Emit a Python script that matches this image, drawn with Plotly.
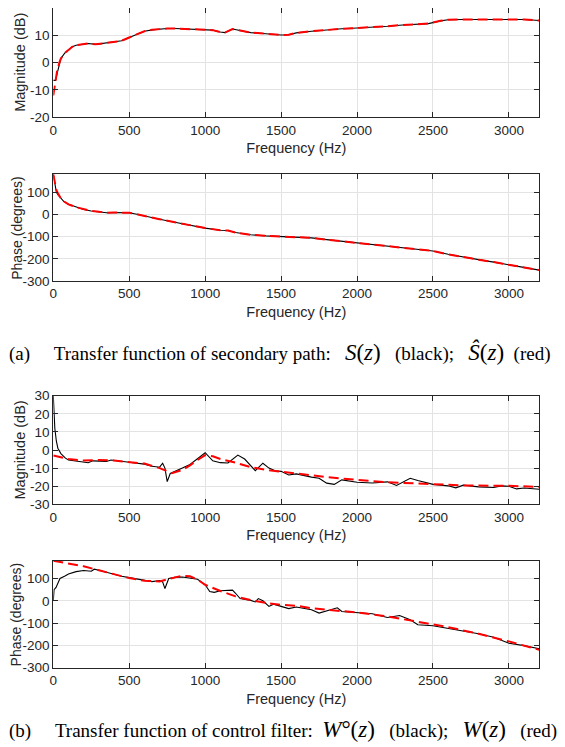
import plotly.graph_objects as go

# ---------------- data ----------------
# (a) secondary path magnitude
s_mag_f = [0, 15, 25, 40, 50, 75, 100, 125, 150, 200, 230, 280, 320, 350, 400, 450, 500, 550, 600, 650,
           700, 750, 800, 900, 1000, 1050, 1100, 1130, 1180, 1250, 1300, 1400, 1500, 1550, 1600, 1700,
           1800, 1900, 2000, 2100, 2200, 2300, 2400, 2470, 2550, 2600, 2700, 2800, 2900, 3000, 3100, 3200]
s_mag = [-6.5, -6.5, -4, 0, 1.5, 3.5, 4.8, 5.8, 6.4, 6.8, 7.0, 6.7, 7.0, 7.3, 7.5, 8.0, 9.2, 10.4, 11.5, 12.0,
         12.3, 12.5, 12.5, 12.3, 12.2, 11.9, 11.2, 11.0, 12.3, 11.6, 11.0, 10.6, 10.1, 10.2, 10.9, 11.5,
         12.0, 12.4, 12.7, 12.9, 13.3, 13.8, 14.0, 14.3, 15.3, 15.7, 15.8, 15.8, 15.9, 16.0, 15.8, 15.4]
shat_mag_f = [0, 10, 25, 40, 50, 75, 100, 125, 150, 200, 230, 280, 320, 350, 400, 450, 500, 550, 600, 650,
              700, 750, 800, 900, 1000, 1050, 1100, 1130, 1180, 1250, 1300, 1400, 1500, 1550, 1600, 1700,
              1800, 1900, 2000, 2100, 2200, 2300, 2400, 2470, 2550, 2600, 2700, 2800, 2900, 3000, 3100, 3200]
shat_mag = [-12, -8, -3, 0, 1.5, 3.5, 4.8, 5.8, 6.4, 6.8, 7.0, 6.7, 7.0, 7.3, 7.5, 8.0, 9.2, 10.4, 11.5, 12.0,
            12.3, 12.5, 12.5, 12.3, 12.2, 11.9, 11.2, 11.0, 12.3, 11.6, 11.0, 10.6, 10.1, 10.2, 10.9, 11.5,
            12.0, 12.4, 12.7, 12.9, 13.3, 13.8, 14.0, 14.3, 15.3, 15.7, 15.8, 15.8, 15.9, 16.0, 15.8, 15.4]

# (a) secondary path phase
s_ph_f = [0, 10, 20, 30, 50, 70, 100, 150, 200, 250, 300, 350, 400, 450, 500, 550, 600, 700, 800, 900,
          1000, 1100, 1150, 1200, 1300, 1400, 1500, 1600, 1700, 1800, 1900, 2000, 2100, 2200, 2300, 2400,
          2500, 2600, 2700, 2800, 2900, 3000, 3100, 3200]
s_ph = [180, 130, 100, 88, 70, 57, 45, 32, 22, 15, 12, 7, 8, 8, 7, 0, -8, -22, -36, -50,
        -62, -72, -73, -82, -92, -97, -100, -100, -106, -114, -121, -128, -135, -143, -151, -158,
        -165, -180, -193, -204, -215, -226, -238, -251]
shat_ph = [180, 140, 110, 95, 72, 58, 45, 32, 22, 15, 12, 7, 8, 8, 7, 0, -8, -22, -36, -50,
           -62, -72, -73, -82, -92, -97, -100, -100, -106, -114, -121, -128, -135, -143, -151, -158,
           -165, -180, -193, -204, -215, -226, -238, -251]

# (b) control filter magnitude
wo_mag_f = [0, 5, 10, 20, 30, 50, 80, 100, 150, 200, 230, 260, 300, 350, 380, 420, 500, 600, 650, 700,
            720, 735, 750, 770, 800, 850, 900, 950, 1000, 1050, 1100, 1150, 1180, 1215, 1260, 1300, 1330,
            1380, 1420, 1460, 1500, 1550, 1600, 1700, 1750, 1800, 1850, 1900, 2000, 2100, 2200, 2260,
            2350, 2400, 2500, 2600, 2650, 2700, 2800, 2900, 2950, 3000, 3050, 3100, 3200]
wo_mag = [30, 22, 12, 5, 1, -2, -4.5, -5.5, -6, -6.5, -7, -6, -6, -6.3, -5.5, -6, -6.8, -7.8, -9, -9.5,
          -7.3, -10, -17.5, -13, -12, -10, -8, -5, -1.5, -6, -7, -7.2, -5, -2.8, -5, -9, -11.4,
          -7.3, -10, -11.5, -11.8, -13.8, -13.2, -15, -15.6, -18.3, -19, -16.5, -17.8, -18.2, -17.6, -19.6,
          -15.6, -16.9, -19, -19.8, -20.9, -19.4, -20.4, -20.7, -19.8, -20, -21.5, -21, -21.7]
w_mag_f = [0, 100, 200, 300, 400, 500, 600, 700, 780, 850, 900, 950, 1000, 1050, 1100, 1200, 1300, 1400,
           1500, 1600, 1800, 2000, 2200, 2400, 2500, 2700, 3000, 3200]
w_mag = [-3, -5, -5.8, -5.5, -5.8, -6.5, -7.5, -10, -12.8, -11, -8.5, -5.5, -2.8, -3.5, -5, -7, -9.5, -11,
         -12, -13.2, -15, -16.5, -17.8, -18.5, -19, -19.6, -19.8, -20.4]

# (b) control filter phase
wo_ph_f = [0, 5, 18, 44, 77, 100, 150, 200, 250, 270, 300, 350, 400, 450, 500, 550, 600, 650, 700, 720,
           735, 760, 800, 850, 950, 1000, 1030, 1060, 1100, 1150, 1180, 1200, 1230, 1300, 1330, 1350, 1380,
           1420, 1450, 1500, 1550, 1600, 1700, 1750, 1800, 1870, 1900, 2000, 2100, 2200, 2280, 2350, 2400,
           2500, 2600, 2700, 2800, 2900, 3000, 3100, 3200]
wo_ph = [0, 50, 60, 100, 111, 120, 131, 136, 133, 142, 137, 127, 120, 110, 104, 98, 90, 86, 91, 85,
         55, 100, 105, 107, 97, 72, 42, 38, 45, 46, 48, 34, 10, 2, -5, 10, 0,
         -25, -15, -25, -35, -28, -40, -55, -45, -31, -48, -52, -58, -75, -66, -85, -107,
         -112, -124, -133, -148, -163, -190, -201, -215]
w_ph_f = [0, 100, 200, 300, 400, 500, 600, 700, 760, 850, 900, 950, 1000, 1100, 1200, 1300, 1400, 1500,
          1600, 1700, 1800, 2000, 2200, 2400, 2500, 2600, 2800, 3000, 3200]
w_ph = [180, 168, 155, 137, 120, 102, 90, 87, 98, 113, 110, 95, 72, 44, 20, 3, -9, -18,
        -22, -33, -40, -52, -70, -93, -107, -118, -148, -182, -220]

x_ticks = [0, 500, 1000, 1500, 2000, 2500, 3000]
mag_ticks_a = [-20, -10, 0, 10, 20]
mag_ticks_b = [-30, -20, -10, 0, 10, 20, 30]
ph_ticks = [-300, -200, -100, 0, 100]

# ---------------- layout ----------------
OFF = 8                      # page body margin of the browser
W, H = 565 - OFF, 747 - OFF  # figure size inside the page
L, R = 53.3, 539.3           # plot frame, screen pixels
panels = [(8, 117.3), (174.3, 281), (395.7, 504.3), (560.7, 667.7)]
ytitle_x = [19.2, 16.2, 19.5, 16.2]


def px(x):
    return (x - OFF) / W


def py(y):
    return 1 - (y - OFF) / H


AX = "#262626"
GRID = "#e3e3e3"
TICKFONT = dict(family="Liberation Sans, Arial", size=13.5, color=AX)
TITLEFONT = dict(family="Liberation Sans, Arial", size=14.5, color=AX)
PHTITLEFONT = dict(family="Liberation Sans, Arial", size=14, color=AX)

fig = go.Figure()

series = [
    (s_mag_f, s_mag, shat_mag_f, shat_mag),
    (s_ph_f, s_ph, s_ph_f, shat_ph),
    (wo_mag_f, wo_mag, w_mag_f, w_mag),
    (wo_ph_f, wo_ph, w_ph_f, w_ph),
]
for i, (fb, vb, fr, vr) in enumerate(series):
    xa = "x" if i == 0 else f"x{i+1}"
    ya = "y" if i == 0 else f"y{i+1}"
    fig.add_trace(go.Scatter(x=fb, y=vb, mode="lines", xaxis=xa, yaxis=ya,
                             line=dict(color="black", width=1.1), showlegend=False, hoverinfo="skip"))
    fig.add_trace(go.Scatter(x=fr, y=vr, mode="lines", xaxis=xa, yaxis=ya,
                             line=dict(color="#ff0000", width=2, dash="10px,5px"),
                             showlegend=False, hoverinfo="skip"))

yspecs = [
    ("Magnitude (dB)", [-20, 20], mag_ticks_a),
    ("Phase (degrees)", [-300, 180], ph_ticks),
    ("Magnitude (dB)", [-30, 30], mag_ticks_b),
    ("Phase (degrees)", [-300, 180], ph_ticks),
]

common = dict(showline=True, linecolor=AX, linewidth=1, mirror="ticks", ticks="inside",
              ticklen=5, tickcolor=AX, tickwidth=1, showgrid=True, gridcolor=GRID, gridwidth=1,
              zeroline=False, tickfont=TICKFONT, automargin=False)

for i, ((title, yr, yt), (top, bot)) in enumerate(zip(yspecs, panels)):
    xk = "xaxis" if i == 0 else f"xaxis{i+1}"
    yk = "yaxis" if i == 0 else f"yaxis{i+1}"
    xanchor = "y" if i == 0 else f"y{i+1}"
    yanchor = "x" if i == 0 else f"x{i+1}"
    fig.layout[xk] = dict(domain=[px(L), px(R)], anchor=xanchor, range=[0, 3200],
                          tickvals=x_ticks, ticktext=[str(t) for t in x_ticks],
                          title=dict(text="Frequency (Hz)", font=TITLEFONT, standoff=6), **common)
    fig.layout[yk] = dict(domain=[py(bot), py(top)], anchor=yanchor, range=yr,
                          tickvals=yt, ticktext=[str(t) for t in yt], **common)
    fig.add_annotation(text=title, xref="paper", yref="paper", x=px(ytitle_x[i]),
                       y=py((top + bot) / 2), textangle=-90, showarrow=False, borderpad=0,
                       xanchor="center", yanchor="middle",
                       font=PHTITLEFONT if title.startswith("Phase") else TITLEFONT)

SERIF = dict(family="Liberation Serif, Times New Roman, serif", size=19, color="black")
NB = "\u00a0"
MATH = "<span style='font-size:23px'>"
cap_a = ("(a)" + NB * 5 + "Transfer function of secondary path:" + NB * 3 +
         MATH + "<i>S</i>(<i>z</i>)</span>" + NB * 3 + "(black);" + NB * 3 +
         MATH + "<i>Ŝ</i>(<i>z</i>)</span>" + NB * 2 + "(red)")
cap_b = ("(b)" + NB * 5 + "Transfer function of control filter:" + NB * 2 +
         MATH + "<i>W</i>°(<i>z</i>)</span>" + NB * 3 + "(black);" + NB * 3 +
         MATH + "<i>W</i>(<i>z</i>)</span>" + NB * 3 + "(red)")
fig.add_annotation(text=cap_a, xref="paper", yref="paper", x=px(8), y=py(351.5), borderpad=0,
                   xanchor="left", yanchor="middle", showarrow=False, font=SERIF)
fig.add_annotation(text=cap_b, xref="paper", yref="paper", x=px(8), y=py(729.5), borderpad=0,
                   xanchor="left", yanchor="middle", showarrow=False, font=SERIF)

fig.update_layout(width=W, height=H, margin=dict(l=0, r=0, t=0, b=0, autoexpand=False),
                  paper_bgcolor="white", plot_bgcolor="white")

fig.write_html("out.html")
